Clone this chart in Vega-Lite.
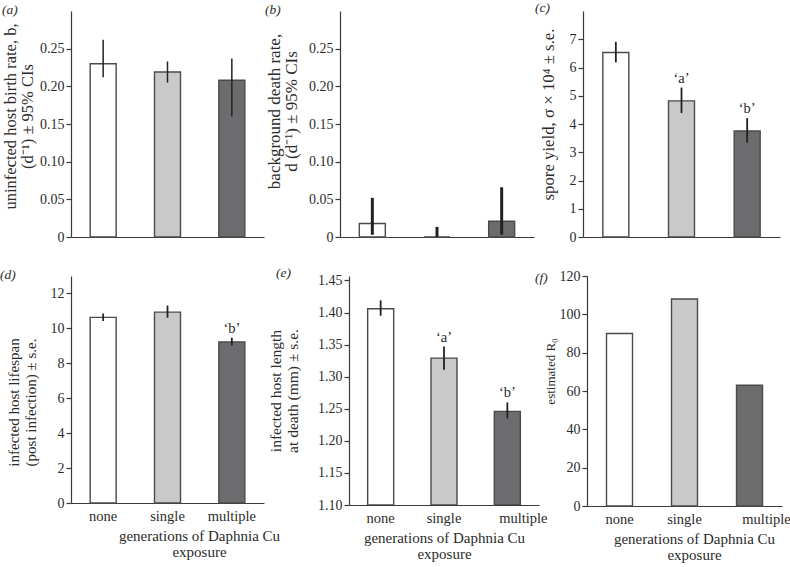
{
  "$schema": "https://vega.github.io/schema/vega-lite/v6.json",
  "padding": {"left": 0, "top": 0, "right": 0, "bottom": 0},
  "background": "white",
  "config": {
    "view": {"stroke": null},
    "font": "Liberation Serif",
    "axis": {"labelFont": "Liberation Serif", "titleFont": "Liberation Serif", "labelColor": "#2b2b2b", "titleColor": "#2b2b2b", "domainColor": "#3a3a3a", "tickColor": "#3a3a3a", "grid": false, "titleFontWeight": "normal", "labelFontSize": 14, "titleFontSize": 15, "domainWidth": 1.2, "tickWidth": 1.2, "tickCount": 20},
    "axisX": {"ticks": false, "labelAngle": 0, "labelPadding": 6, "titlePadding": 6, "labelFontSize": 14.5, "titleLineHeight": 16},
    "axisY": {"tickSize": 5, "labelPadding": 2, "titleLineHeight": 17},
    "title": {"font": "Liberation Serif", "fontSize": 13.5, "fontStyle": "italic", "fontWeight": "normal", "anchor": "start", "frame": "group", "baseline": "middle", "offset": 0, "color": "#2b2b2b"},
    "scale": {"bandPaddingInner": 0, "bandPaddingOuter": 0},
    "bar": {"size": 26, "stroke": "#4a4a4a", "strokeWidth": 1.4},
    "rule": {"color": "#222222", "strokeWidth": 1.8},
    "text": {"font": "Liberation Serif", "fontSize": 14.5, "color": "#2b2b2b", "baseline": "middle", "dy": -9}
  },
  "datasets": {
    "a": [
      {"gen": "none", "value": 0.23, "lo": 0.212, "hi": 0.262},
      {"gen": "single", "value": 0.219, "lo": 0.205, "hi": 0.233},
      {"gen": "multiple", "value": 0.208, "lo": 0.16, "hi": 0.237}
    ],
    "b": [
      {"gen": "none", "value": 0.018, "lo": 0.003, "hi": 0.052},
      {"gen": "single", "value": 0.0, "lo": 0.0, "hi": 0.0135},
      {"gen": "multiple", "value": 0.021, "lo": 0.003, "hi": 0.066}
    ],
    "c": [
      {"gen": "none", "value": 6.53, "lo": 6.18, "hi": 6.91, "sig": ""},
      {"gen": "single", "value": 4.82, "lo": 4.39, "hi": 5.29, "sig": "‘a’"},
      {"gen": "multiple", "value": 3.75, "lo": 3.34, "hi": 4.21, "sig": "‘b’"}
    ],
    "d": [
      {"gen": "none", "value": 10.63, "lo": 10.42, "hi": 10.85, "sig": ""},
      {"gen": "single", "value": 10.93, "lo": 10.61, "hi": 11.31, "sig": ""},
      {"gen": "multiple", "value": 9.22, "lo": 9.03, "hi": 9.47, "sig": "‘b’"}
    ],
    "e": [
      {"gen": "none", "value": 1.406, "lo": 1.395, "hi": 1.419, "sig": ""},
      {"gen": "single", "value": 1.329, "lo": 1.311, "hi": 1.347, "sig": "‘a’"},
      {"gen": "multiple", "value": 1.246, "lo": 1.235, "hi": 1.26, "sig": "‘b’"}
    ],
    "f": [
      {"gen": "none", "value": 90},
      {"gen": "single", "value": 108},
      {"gen": "multiple", "value": 63}
    ]
  },
  "spacing": 21,
  "vconcat": [
    {
      "spacing": 1,
      "hconcat": [
        {
          "width": 193, "height": 226,
          "title": {"text": "(a)", "dx": -69, "dy": 9},
          "data": {"name": "a"},
          "encoding": {"x": {"field": "gen", "type": "nominal", "sort": ["none", "single", "multiple"], "axis": {"labels": false, "title": null}}},
          "layer": [
            {"mark": {"type": "bar"}, "encoding": {
              "y": {"field": "value", "type": "quantitative", "scale": {"domain": [0, 0.3], "nice": false}, "axis": {"values": [0, 0.05, 0.1, 0.15, 0.2, 0.25], "labelExpr": "datum.value === 0 ? '0' : format(datum.value, '.2f')", "title": ["uninfected host birth rate, b,", "(d⁻¹) ± 95% CIs"], "titleFontSize": 16.5, "titlePadding": 4, "titleY": 105}},
              "fill": {"field": "gen", "type": "nominal", "scale": {"domain": ["none", "single", "multiple"], "range": ["#ffffff", "#c9c9c9", "#6c6c6e"]}, "legend": null}}},
            {"mark": {"type": "rule", "strokeWidth": 1.5}, "encoding": {"y": {"field": "lo", "type": "quantitative"}, "y2": {"field": "hi"}}}
          ]
        },
        {
          "width": 194, "height": 226,
          "title": {"text": "(b)", "dx": -75, "dy": 9},
          "data": {"name": "b"},
          "encoding": {"x": {"field": "gen", "type": "nominal", "sort": ["none", "single", "multiple"], "axis": {"labels": false, "title": null}}},
          "layer": [
            {"mark": {"type": "bar"}, "encoding": {
              "y": {"field": "value", "type": "quantitative", "scale": {"domain": [0, 0.3], "nice": false}, "axis": {"values": [0, 0.05, 0.1, 0.15, 0.2, 0.25], "labelExpr": "datum.value === 0 ? '0' : format(datum.value, '.2f')", "title": ["background death rate,", "d (d⁻¹) ± 95% CIs"], "titleFontSize": 17, "titlePadding": 8, "titleY": 100}},
              "fill": {"field": "gen", "type": "nominal", "scale": {"domain": ["none", "single", "multiple"], "range": ["#ffffff", "#c9c9c9", "#6c6c6e"]}, "legend": null}}},
            {"mark": {"type": "rule", "strokeWidth": 3}, "encoding": {"y": {"field": "lo", "type": "quantitative"}, "y2": {"field": "hi"}}}
          ]
        },
        {
          "width": 197, "height": 226,
          "title": {"text": "(c)", "dx": -48, "dy": 7},
          "data": {"name": "c"},
          "encoding": {"x": {"field": "gen", "type": "nominal", "sort": ["none", "single", "multiple"], "axis": {"labels": false, "title": null}}},
          "layer": [
            {"mark": {"type": "bar"}, "encoding": {
              "y": {"field": "value", "type": "quantitative", "scale": {"domain": [0, 8], "nice": false}, "axis": {"values": [0, 1, 2, 3, 4, 5, 6, 7], "format": "d", "title": "spore yield, σ × 10⁴ ± s.e.", "titleFontSize": 16.8, "titlePadding": 12, "titleY": 103}},
              "fill": {"field": "gen", "type": "nominal", "scale": {"domain": ["none", "single", "multiple"], "range": ["#ffffff", "#c9c9c9", "#6c6c6e"]}, "legend": null}}},
            {"mark": {"type": "rule"}, "encoding": {"y": {"field": "lo", "type": "quantitative"}, "y2": {"field": "hi"}}},
            {"mark": {"type": "text"}, "encoding": {"y": {"field": "hi", "type": "quantitative"}, "text": {"field": "sig"}}}
          ]
        }
      ]
    },
    {
      "spacing": -12,
      "hconcat": [
        {
          "width": 193, "height": 227,
          "title": {"text": "(d)", "dx": -71, "dy": 9},
          "data": {"name": "d"},
          "encoding": {"x": {"field": "gen", "type": "nominal", "sort": ["none", "single", "multiple"], "axis": {"title": ["generations of Daphnia Cu", "exposure"], "titleFontSize": 15, "titleX": 128}}},
          "layer": [
            {"mark": {"type": "bar"}, "encoding": {
              "y": {"field": "value", "type": "quantitative", "scale": {"domain": [0, 13], "nice": false}, "axis": {"values": [0, 2, 4, 6, 8, 10, 12], "format": "d", "title": ["infected host lifespan", "(post infection) ± s.e."], "titleFontSize": 15, "titlePadding": 12, "titleY": 126}},
              "fill": {"field": "gen", "type": "nominal", "scale": {"domain": ["none", "single", "multiple"], "range": ["#ffffff", "#c9c9c9", "#6c6c6e"]}, "legend": null}}},
            {"mark": {"type": "rule"}, "encoding": {"y": {"field": "lo", "type": "quantitative"}, "y2": {"field": "hi"}}},
            {"mark": {"type": "text"}, "encoding": {"y": {"field": "hi", "type": "quantitative"}, "text": {"field": "sig"}}}
          ]
        },
        {
          "width": 190, "height": 229,
          "title": {"text": "(e)", "dx": -73, "dy": 10},
          "data": {"name": "e"},
          "encoding": {"x": {"field": "gen", "type": "nominal", "sort": ["none", "single", "multiple"], "axis": {"title": ["generations of Daphnia Cu", "exposure"], "titleFontSize": 15, "labelOffset": {"condition": {"test": "datum.value === 'multiple'", "value": 16}, "value": 0}}}},
          "layer": [
            {"mark": {"type": "bar", "clip": true}, "encoding": {
              "y": {"field": "value", "type": "quantitative", "scale": {"domain": [1.1, 1.457], "nice": false, "zero": false}, "axis": {"values": [1.1, 1.15, 1.2, 1.25, 1.3, 1.35, 1.4, 1.45], "format": ".2f", "title": ["infected host length", "at death (mm) ± s.e."], "titleFontSize": 15.5, "titlePadding": 17}},
              "y2": {"datum": 1.1},
              "fill": {"field": "gen", "type": "nominal", "scale": {"domain": ["none", "single", "multiple"], "range": ["#ffffff", "#c9c9c9", "#6c6c6e"]}, "legend": null}}},
            {"mark": {"type": "rule"}, "encoding": {"y": {"field": "lo", "type": "quantitative"}, "y2": {"field": "hi"}}},
            {"mark": {"type": "text"}, "encoding": {"y": {"field": "hi", "type": "quantitative"}, "text": {"field": "sig"}}}
          ]
        },
        {
          "width": 195, "height": 230,
          "title": {"text": "(f)", "dx": -52, "dy": 19},
          "data": {"name": "f"},
          "encoding": {"x": {"field": "gen", "type": "nominal", "sort": ["none", "single", "multiple"], "axis": {"title": ["generations of Daphnia Cu", "exposure"], "titleFontSize": 15, "titleX": 107, "labelOffset": {"condition": {"test": "datum.value === 'multiple'", "value": 17}, "value": 0}}}},
          "layer": [
            {"mark": {"type": "bar"}, "encoding": {
              "y": {"field": "value", "type": "quantitative", "scale": {"domain": [0, 120], "nice": false}, "axis": {"values": [0, 20, 40, 60, 80, 100, 120], "format": "d", "title": "estimated R₀", "titleFontSize": 13, "titlePadding": 2, "titleY": 95}},
              "fill": {"field": "gen", "type": "nominal", "scale": {"domain": ["none", "single", "multiple"], "range": ["#ffffff", "#c9c9c9", "#6c6c6e"]}, "legend": null}}}
          ]
        }
      ]
    }
  ]
}
